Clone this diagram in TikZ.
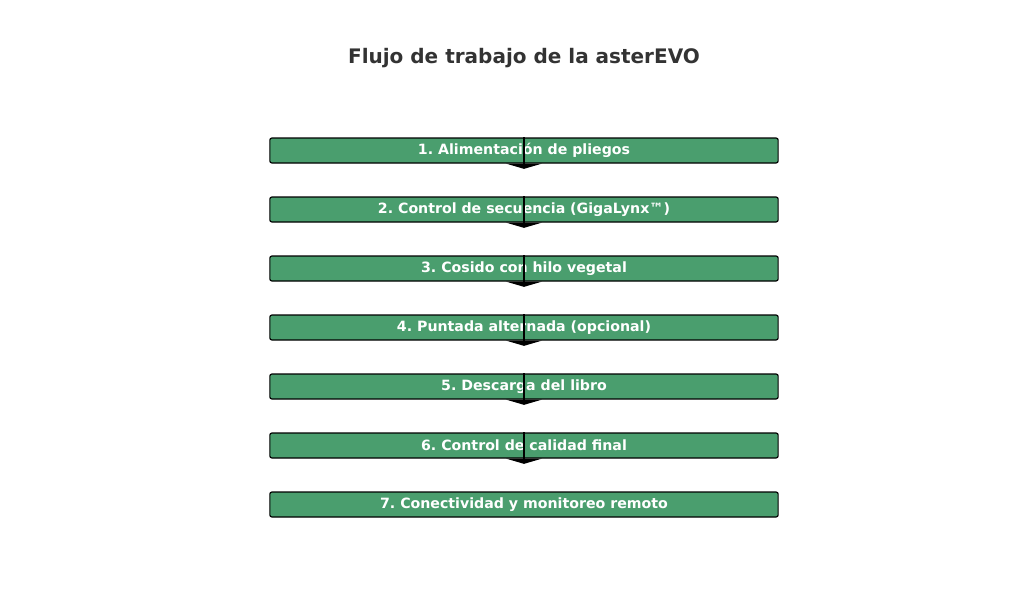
\documentclass[tikz,border=0pt]{standalone}
\usepackage{fontspec}
\setmainfont{DejaVu Sans}
\usetikzlibrary{arrows.meta}
\definecolor{stepgreen}{RGB}{74,158,110}
\definecolor{titlegray}{RGB}{51,51,51}
\frenchspacing
\begin{document}
\begin{tikzpicture}[x=0.72pt,y=-0.72pt,
    stepbox/.style={draw=black,line width=0.8pt,fill=stepgreen,rounded corners=1.5pt,
      minimum width=366pt,minimum height=18pt,inner sep=0pt,
      text=white,font=\bfseries\fontsize{10.2}{12}\selectfont},
    flow/.style={line width=0.8pt,-{Triangle[width=26pt,length=3.8pt]},shorten >=-3.8pt}]

       \useasboundingbox (0,0) rectangle (1024,614);

       \node[font=\bfseries\fontsize{14.4}{16}\selectfont,text=titlegray] (title) at (524,58) {Flujo de trabajo de la asterEVO};

       \node[stepbox] (s1) at (524,150.5) {1. Alimentación de pliegos};
       \node[stepbox] (s2) at (524,209.5) {2. Control de secuencia (GigaLynx™)};
       \node[stepbox] (s3) at (524,268.5) {3. Cosido con hilo vegetal};
       \node[stepbox] (s4) at (524,327.5) {4. Puntada alternada (opcional)};
       \node[stepbox] (s5) at (524,386.5) {5. Descarga del libro};
       \node[stepbox] (s6) at (524,445.5) {6. Control de calidad final};
       \node[stepbox] (s7) at (524,504.5) {7. Conectividad y monitoreo remoto};

       \draw[flow] (s1.north) -- (s1.south);
       \draw[flow] (s2.north) -- (s2.south);
       \draw[flow] (s3.north) -- (s3.south);
       \draw[flow] (s4.north) -- (s4.south);
       \draw[flow] (s5.north) -- (s5.south);
       \draw[flow] (s6.north) -- (s6.south);
     \end{tikzpicture}
\end{document}
